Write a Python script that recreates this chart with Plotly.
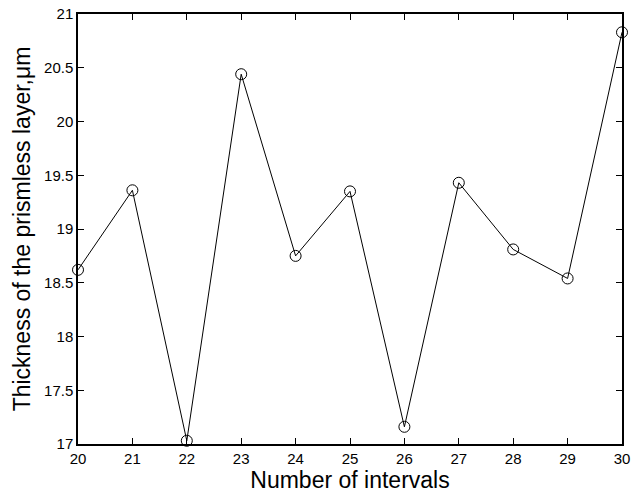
import plotly.graph_objects as go

intervals = [20, 21, 22, 23, 24, 25, 26, 27, 28, 29, 30]
thickness = [18.62, 19.36, 17.03, 20.44, 18.75, 19.35, 17.16, 19.43, 18.81, 18.54, 20.83]
x_ticks = list(range(20, 31))
y_ticks = [17, 17.5, 18, 18.5, 19, 19.5, 20, 20.5, 21]
y_ticklabels = ["17", "17.5", "18", "18.5", "19", "19.5", "20", "20.5", "21"]

fig = go.Figure()
fig.add_trace(go.Scatter(
    x=intervals, y=thickness, mode="lines+markers",
    line=dict(color="black", width=1),
    marker=dict(symbol="circle-open", size=11, color="black", line=dict(width=1)),
    cliponaxis=False, showlegend=False,
))

font = "Liberation Sans, Arial, Helvetica, sans-serif"
axis_common = dict(
    showgrid=False, zeroline=False, showline=True, linecolor="black", linewidth=1.5,
    mirror="ticks", ticks="inside", ticklen=6, tickwidth=1, tickcolor="black",
    tickfont=dict(family=font, size=15, color="black"), automargin=False,
    ticklabeloverflow="allow",
)
fig.update_xaxes(range=[20, 30], tickvals=x_ticks, ticktext=[str(v) for v in x_ticks],
                 title=dict(text="Number of intervals", font=dict(family=font, size=23, color="black"), standoff=0),
                 **axis_common)
fig.update_yaxes(range=[17, 21], tickvals=y_ticks, ticktext=y_ticklabels,
                 title=dict(text="Thickness of the prismless layer,\u03bcm", font=dict(family=font, size=23, color="black"), standoff=7),
                 **axis_common)
fig.update_layout(
    width=633, height=497,
    margin=dict(l=78, r=11, t=14, b=53),
    paper_bgcolor="white", plot_bgcolor="white",
    font=dict(family=font, color="black"),
)
fig.write_html("out.html", config={"displayModeBar": False},
               post_script="document.body.style.margin='0px';document.body.style.overflow='hidden';")
